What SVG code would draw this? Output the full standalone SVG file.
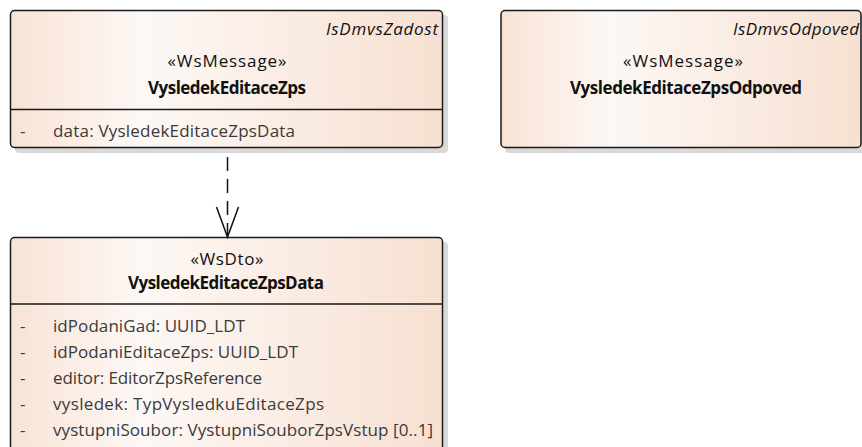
<svg xmlns="http://www.w3.org/2000/svg" width="862" height="447" viewBox="0 0 862 447">
  <defs>
    <linearGradient id="fill" x1="0" y1="0" x2="1" y2="0">
      <stop offset="0" stop-color="#f8e3d6"/>
      <stop offset="0.3" stop-color="#fdf8f5"/>
      <stop offset="1" stop-color="#f7e0d1"/>
    </linearGradient>
    <style>
      .shadow { fill: #d9d9d9; }
      .box { fill: url(#fill); stroke: #1a1a1a; stroke-width: 1.5; }
      .div { stroke: #1a1a1a; stroke-width: 1.5; }
      text { font-family: "Open Sans", "Noto Sans", "DejaVu Sans", sans-serif; font-size: 17px; fill: #111; }
      .tag { font-style: italic; text-anchor: end; }
      .st { text-anchor: middle; }
      .nm { text-anchor: middle; font-weight: bold; font-size: 17px; }
      .at { fill: #3a3a3a; }
      .conn { stroke: #111; stroke-width: 1.5; fill: none; }
    </style>
  </defs>

  <g id="node-VysledekEditaceZps">
    <rect class="shadow" x="15" y="15" width="433" height="138" rx="4"/>
    <rect class="box" x="10.5" y="10.5" width="432" height="137" rx="4"/>
    <line class="div" x1="10.5" y1="109.5" x2="442.5" y2="109.5"/>
    <text class="tag" x="438" y="35" textLength="112">IsDmvsZadost</text>
    <text class="st" x="227" y="67" textLength="119">«WsMessage»</text>
    <text class="nm" x="227" y="94" textLength="158">VysledekEditaceZps</text>
    <text class="at" x="20" y="137">-</text>
    <text class="at" x="53" y="137" textLength="242">data: VysledekEditaceZpsData</text>
  </g>

  <g id="node-VysledekEditaceZpsOdpoved">
    <rect class="shadow" x="505" y="15" width="362" height="138" rx="4"/>
    <rect class="box" x="501" y="10.5" width="360" height="137" rx="4"/>
    <text class="tag" x="859" y="35" textLength="126">IsDmvsOdpoved</text>
    <text class="st" x="683" y="67" textLength="120">«WsMessage»</text>
    <text class="nm" x="686" y="94" textLength="232">VysledekEditaceZpsOdpoved</text>
  </g>

  <g id="node-VysledekEditaceZpsData">
    <rect class="shadow" x="15" y="242" width="433" height="220" rx="4"/>
    <rect class="box" x="10.5" y="237.5" width="432" height="220" rx="4"/>
    <line class="div" x1="10.5" y1="304" x2="442.5" y2="304"/>
    <text class="st" x="227" y="265" textLength="73">«WsDto»</text>
    <text class="nm" x="226" y="289" textLength="196">VysledekEditaceZpsData</text>
    <text class="at" x="20" y="332">-</text>
    <text class="at" x="53" y="332" textLength="192">idPodaniGad: UUID_LDT</text>
    <text class="at" x="20" y="358">-</text>
    <text class="at" x="53" y="358" textLength="245">idPodaniEditaceZps: UUID_LDT</text>
    <text class="at" x="20" y="384">-</text>
    <text class="at" x="53" y="384" textLength="209">editor: EditorZpsReference</text>
    <text class="at" x="20" y="410">-</text>
    <text class="at" x="53" y="410" textLength="271">vysledek: TypVysledkuEditaceZps</text>
    <text class="at" x="20" y="436">-</text>
    <text class="at" x="53" y="436" textLength="380">vystupniSoubor: VystupniSouborZpsVstup [0..1]</text>
  </g>

  <g id="connectors">
    <line class="conn" x1="227.5" y1="157" x2="227.5" y2="237" stroke-dasharray="14 8"/>
    <polyline class="conn" points="216.5,207 227.5,237 238.5,207"/>
  </g>
</svg>
